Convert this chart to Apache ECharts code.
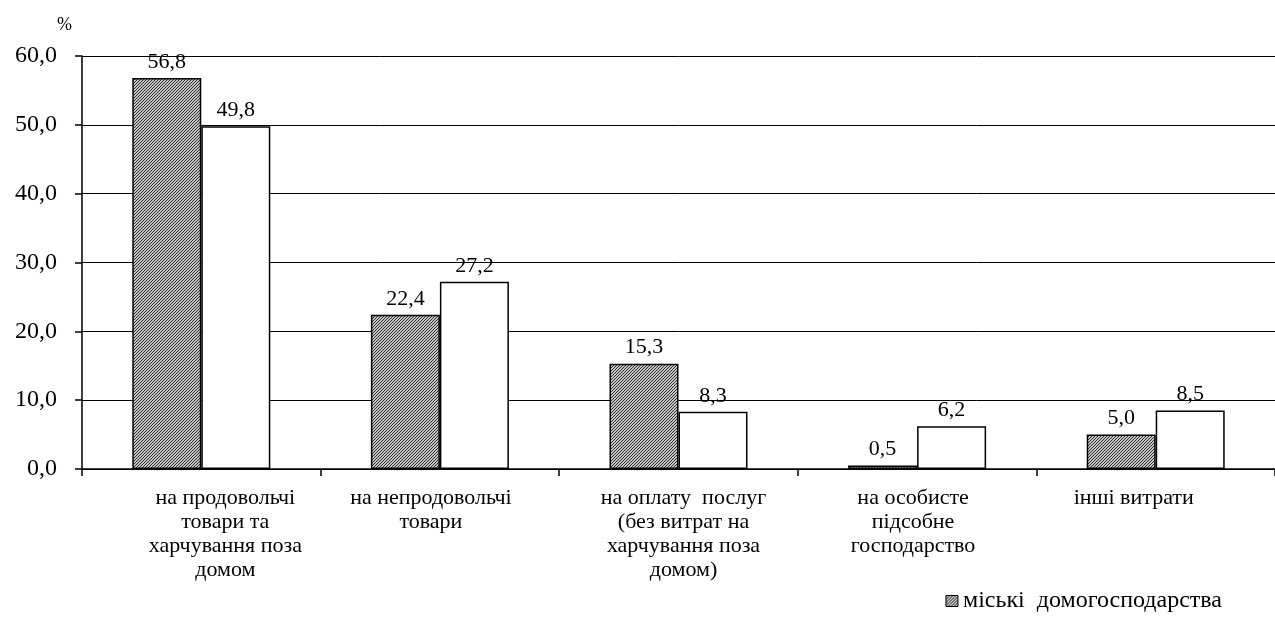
<!DOCTYPE html>
<html>
<head>
<meta charset="utf-8">
<script src="https://cdn.jsdelivr.net/npm/echarts@6/dist/echarts.min.js"></script>
<style>
  html, body { margin: 0; padding: 0; background: #fff; }
  #chart { width: 1275px; height: 621px; }
</style>
</head>
<body>
<div id="chart"></div>
<script>
// Структура сукупних витрат домогосподарств, %
const categories = [
  'на продовольчі\nтовари та\nхарчування поза\nдомом',
  'на непродовольчі\nтовари',
  'на оплату  послуг\n(без витрат на\nхарчування поза\nдомом)',
  'на особисте\nпідсобне\nгосподарство',
  'інші витрати'
];
const urbanName = 'міські  домогосподарства';
const ruralName = 'сільські  домогосподарства';
const urbanValues = [56.8, 22.4, 15.3, 0.5, 5.0];
const ruralValues = [49.8, 27.2, 8.3, 6.2, 8.5];
const yTicks = { min: 0, max: 60, interval: 10 };

// horizontal nudge of each category caption (px, + moves right)
const captionShift = [24, -9, 5, -4, -22];

// fine diagonal hatch used for the urban bars
function makeHatch() {
  const c = document.createElement('canvas');
  c.width = 3; c.height = 3;
  const ctx = c.getContext('2d');
  ctx.fillStyle = '#c4c4c4';
  ctx.fillRect(0, 0, 3, 3);
  ctx.fillStyle = '#303030';
  for (let y = 0; y < 3; y++) {
    for (let x = 0; x < 3; x++) {
      if ((x + y) % 3 === 0) ctx.fillRect(x, y, 1, 1);
    }
  }
  return c;
}

const font = 'Liberation Serif';
const comma = v => v.toFixed(1).replace('.', ',');
const hatch = { image: makeHatch(), repeat: 'repeat' };
const valueLabel = {
  show: true, position: 'top', distance: 5,
  fontFamily: font, fontSize: 22, color: '#000',
  formatter: p => comma(p.value)
};

const categoryItems = categories.map((name, i) => {
  const s = captionShift[i];
  return {
    value: name,
    textStyle: { padding: s >= 0 ? [0, 0, 0, 2 * s] : [0, -2 * s, 0, 0] }
  };
});

const chart = echarts.init(document.getElementById('chart'), null, { renderer: 'canvas' });
chart.setOption({
  backgroundColor: '#fff',
  animation: false,
  textStyle: { fontFamily: font, color: '#000' },
  grid: { left: 82, top: 56, width: 1202, height: 413, containLabel: false },
  legend: {
    data: [{ name: urbanName, icon: 'rect', itemStyle: { color: hatch, borderColor: '#000', borderWidth: 1 } }],
    right: 48,
    bottom: 3,
    itemWidth: 12,
    itemHeight: 11,
    itemGap: 8,
    textStyle: { fontFamily: font, fontSize: 24, color: '#000' }
  },
  xAxis: {
    type: 'category',
    data: categoryItems,
    axisLine: { lineStyle: { color: '#000', width: 1.5 } },
    axisTick: { show: true, length: 7, alignWithLabel: false, lineStyle: { color: '#000', width: 1.5 } },
    axisLabel: { interval: 0, margin: 17, fontFamily: font, fontSize: 22, lineHeight: 24, color: '#000' }
  },
  yAxis: {
    type: 'value',
    min: yTicks.min, max: yTicks.max, interval: yTicks.interval,
    name: '%',
    nameLocation: 'end',
    nameGap: 22,
    nameTextStyle: { fontFamily: font, fontSize: 18, color: '#000', align: 'right', padding: [0, 10, 0, 0] },
    axisLine: { show: true, lineStyle: { color: '#000', width: 1.5 } },
    axisTick: { show: true, length: 7, lineStyle: { color: '#000', width: 1.5 } },
    axisLabel: { margin: 25, fontFamily: font, fontSize: 24, color: '#000', formatter: v => comma(v) },
    splitLine: { show: true, lineStyle: { color: '#000', width: 1 } }
  },
  series: [
    {
      name: urbanName,
      type: 'bar',
      data: urbanValues,
      barWidth: 69,
      barGap: '0%',
      itemStyle: { color: hatch, borderColor: '#000', borderWidth: 1.5 },
      label: valueLabel
    },
    {
      name: ruralName,
      type: 'bar',
      data: ruralValues,
      barWidth: 69,
      barGap: '0%',
      itemStyle: { color: '#fff', borderColor: '#000', borderWidth: 1.5 },
      label: valueLabel
    }
  ]
});
</script>
</body>
</html>
